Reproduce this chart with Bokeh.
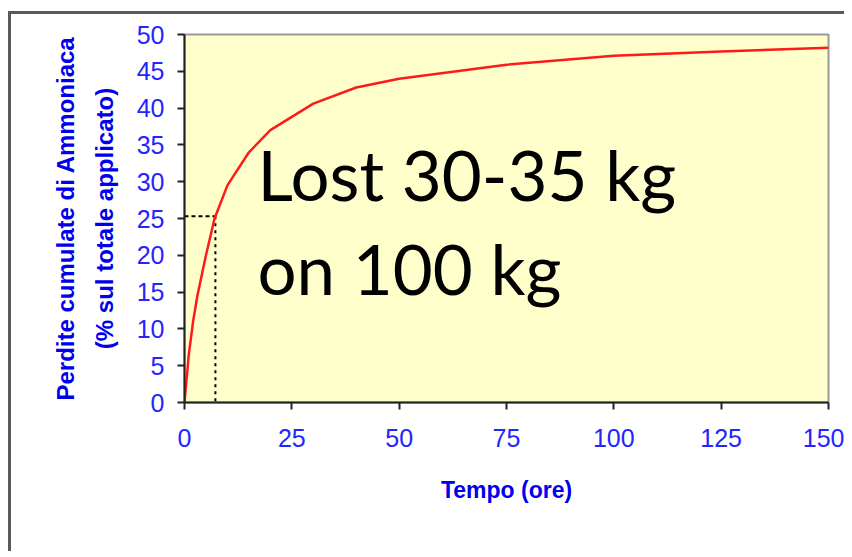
from bokeh.plotting import figure
from bokeh.models import Range1d, Label, FixedTicker
from bokeh.embed import file_html
from bokeh.resources import INLINE

# ---- data ----
time_h = [0, 1, 2, 3, 5, 7, 10, 15, 20, 30, 40, 50, 75, 100, 125, 150]
loss_pct = [0, 6.5, 11, 14.5, 20, 25, 29.5, 34, 37, 40.6, 42.8, 44, 45.9, 47.1, 47.7, 48.2]

marker_time = 7.2     # hours at which 25 % is lost
marker_loss = 25.3

x_ticks = [0, 25, 50, 75, 100, 125, 150]
y_ticks = [0, 5, 10, 15, 20, 25, 30, 35, 40, 45, 50]

note_lines = ["Lost 30-35 kg", "on 100 kg"]

x_title = "Tempo (ore)"
y_title = "Perdite cumulate di Ammoniaca\n(% sul totale applicato)"

# ---- figure ----
W, H = 836, 540
p = figure(width=W, height=H, output_backend="svg", toolbar_location=None,
           x_range=Range1d(0, 150), y_range=Range1d(0, 50),
           min_border_left=173, min_border_right=19,
           min_border_top=20, min_border_bottom=152)
p.margin = (11, 0, 0, 8)
p.styles = {"border-left": "3px solid #5a5a5a", "border-top": "3px solid #5a5a5a"}

p.background_fill_color = "#FFFFCC"
p.border_fill_color = "white"
p.outline_line_color = "#999999"
p.outline_line_width = 2
p.grid.visible = False

blue_tick = "#2424ff"
blue_title = "#0000ee"

# x axis
xa = p.xaxis[0]
xa.ticker = FixedTicker(ticks=x_ticks)
xa.minor_tick_line_color = None
xa.major_tick_in = 0
xa.major_tick_out = 7
xa.major_tick_line_width = 2
xa.major_tick_line_color = "#222222"
xa.axis_line_width = 2
xa.axis_line_color = "#222222"
xa.major_label_text_font = "Liberation Sans"
xa.major_label_text_font_size = "25px"
xa.major_label_text_color = blue_tick
xa.major_label_standoff = 19
xa.axis_label = x_title
xa.axis_label_text_font = "Liberation Sans"
xa.axis_label_text_font_style = "bold"
xa.axis_label_text_font_size = "23px"
xa.axis_label_text_color = blue_title
xa.axis_label_standoff = 27

# y axis
ya = p.yaxis[0]
ya.ticker = FixedTicker(ticks=y_ticks)
ya.minor_tick_line_color = None
ya.major_tick_in = 0
ya.major_tick_out = 7
ya.major_tick_line_width = 2
ya.major_tick_line_color = "#222222"
ya.axis_line_width = 2
ya.axis_line_color = "#222222"
ya.major_label_text_font = "Liberation Sans"
ya.major_label_text_font_size = "25px"
ya.major_label_text_color = blue_tick
ya.major_label_standoff = 13
ya.axis_label = y_title
ya.axis_label_text_font = "Liberation Sans"
ya.axis_label_text_font_style = "bold"
ya.axis_label_text_font_size = "24px"
ya.axis_label_text_color = blue_title
ya.axis_label_text_line_height = 1.45
ya.axis_label_standoff = 16

# dashed guide lines
p.line([0, marker_time], [marker_loss, marker_loss], line_color="black",
       line_width=2, line_dash="4 3")
p.line([marker_time, marker_time], [marker_loss, 0], line_color="black",
       line_width=2, line_dash="3 4")

# curve
p.line(time_h, loss_pct, line_color="#ff1a1a", line_width=2.5)

# note text
p.add_layout(Label(x=17.0, y=31.0, text=note_lines[0], text_font="Lato",
                   text_font_size="69px", text_color="black",
                   text_baseline="alphabetic"))
p.add_layout(Label(x=17.0, y=18.2, text=note_lines[1], text_font="Lato",
                   text_font_size="69px", text_color="black",
                   text_baseline="alphabetic"))

open("out.html", "w").write(file_html(p, INLINE))
